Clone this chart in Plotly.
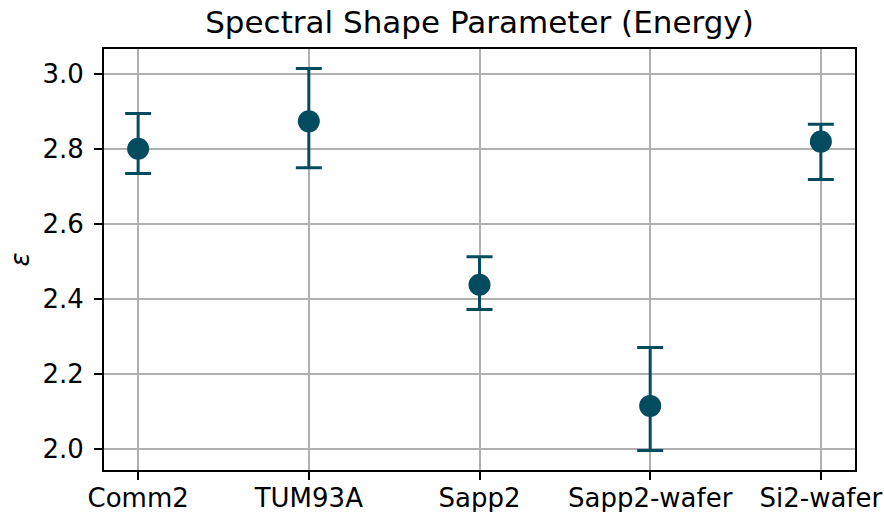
import plotly.graph_objects as go

categories = ["Comm2", "TUM93A", "Sapp2", "Sapp2-wafer", "Si2-wafer"]
values = [2.800, 2.873, 2.437, 2.114, 2.819]
upper = [2.894, 3.014, 2.512, 2.270, 2.865]
lower = [2.734, 2.749, 2.371, 1.995, 2.718]
yticks = [2.0, 2.2, 2.4, 2.6, 2.8, 3.0]

err_plus = [u - v for u, v in zip(upper, values)]
err_minus = [v - l for v, l in zip(values, lower)]
xpos = list(range(len(categories)))

color = "#034b5e"
font = "DejaVu Sans"

fig = go.Figure()
fig.add_trace(go.Scatter(
    x=xpos, y=values, mode="markers",
    marker=dict(size=22, color=color),
    error_y=dict(type="data", array=err_plus, arrayminus=err_minus,
                 color=color, thickness=3, width=13, symmetric=False),
    showlegend=False,
))

fig.update_layout(
    width=884, height=512,
    margin=dict(l=104, r=29, t=49, b=42),
    paper_bgcolor="white", plot_bgcolor="white",
    font=dict(family=font, size=26, color="black"),
    title=dict(text="Spectral Shape Parameter (Energy)", xref="paper", x=0.5, xanchor="center",
               y=1 - 22 / 512, yanchor="middle",
               font=dict(family=font, size=31, color="black")),
)
fig.update_xaxes(
    range=[-0.2, 4.2], tickmode="array", tickvals=xpos, ticktext=categories,
    showgrid=True, gridcolor="#b0b0b0", gridwidth=2,
    showline=True, linecolor="black", linewidth=2, mirror=True,
    ticks="outside", ticklen=8, tickwidth=2, tickcolor="black",
    zeroline=False, tickfont=dict(family=font, size=26), automargin=False,
    ticklabelstandoff=-4,
)
fig.update_yaxes(
    range=[1.943, 3.066], tickmode="array", tickvals=yticks,
    ticktext=[f"{t:.1f}" for t in yticks],
    showgrid=True, gridcolor="#b0b0b0", gridwidth=2,
    showline=True, linecolor="black", linewidth=2, mirror=True,
    ticks="outside", ticklen=8, tickwidth=2, tickcolor="black",
    zeroline=False, tickfont=dict(family=font, size=26), automargin=False,
    ticklabelstandoff=5,
    title=dict(text="<i>ε</i>", font=dict(family=font, size=26), standoff=5),
)

fig.write_html("out.html")
